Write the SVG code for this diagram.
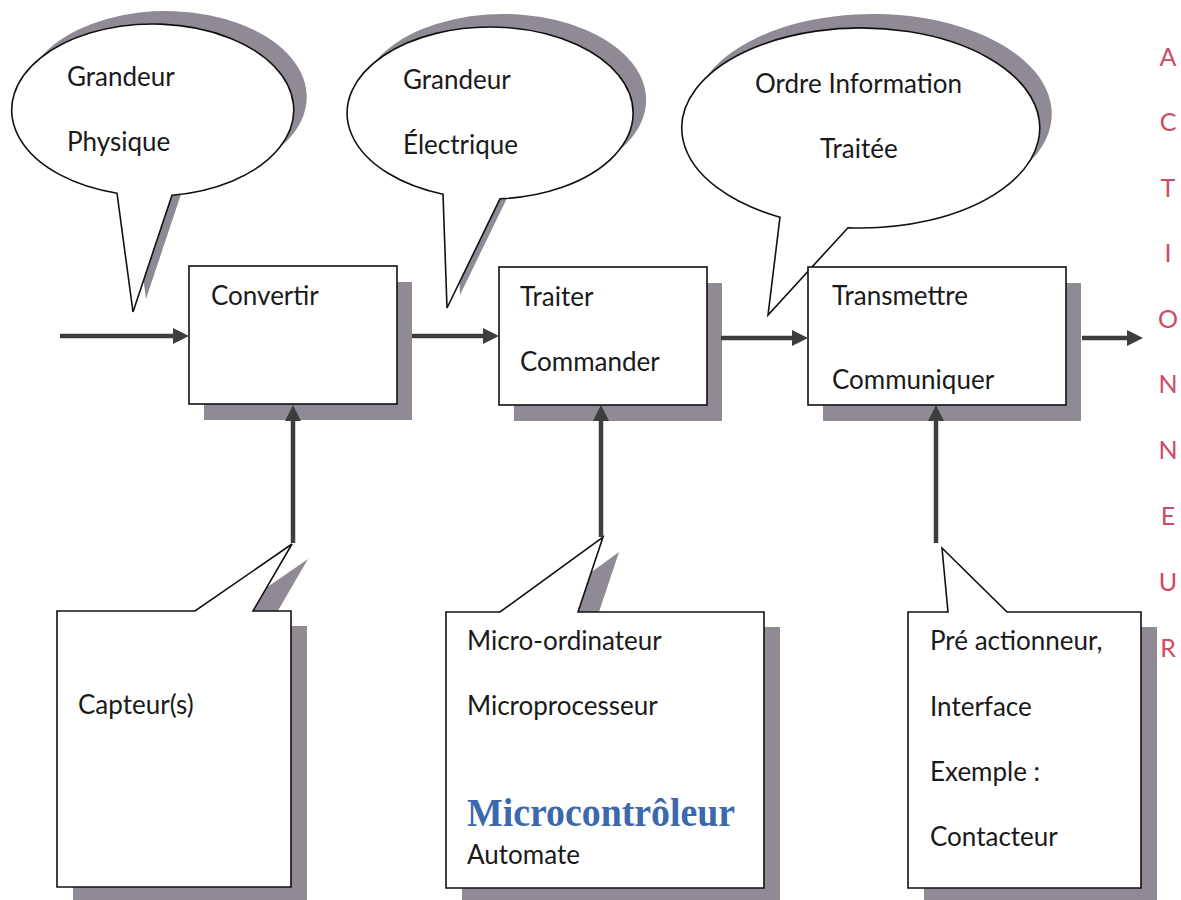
<svg xmlns="http://www.w3.org/2000/svg" width="1181" height="900" viewBox="0 0 1181 900">
<style>
.sh{fill:#8f8a94;stroke:none}
.cal{fill:#ffffff;stroke:#111111;stroke-width:1.6;stroke-linejoin:miter}
.box{fill:#ffffff;stroke:#111111;stroke-width:1.6}
.t{font-family:Lato,"Open Sans","Liberation Sans",sans-serif;font-size:26px;fill:#1a1a1a}
.red{font-family:Lato,"Open Sans","Liberation Sans",sans-serif;font-size:25px;fill:#cf4a64;text-anchor:middle}
.mc{font-family:"Liberation Serif","DejaVu Serif",serif;font-size:40px;font-weight:bold;fill:#3c68ac}
.ln{stroke:#3d3d3d;stroke-width:4.5;fill:none}
.hd{fill:#3d3d3d;stroke:none}
</style>
<rect width="1181" height="900" fill="#ffffff"/>

<!-- top callouts -->
<g id="callout-grandeur-physique">
<path class="sh" transform="translate(13,-13)" d="M117,193.2 A141,86 0 1 1 172,195.2 L133,312 Z"/>
<path class="cal" d="M117,193.2 A141,86 0 1 1 172,195.2 L133,312 Z"/>
<text class="t" x="67" y="86">Grandeur</text>
<text class="t" x="67" y="151">Physique</text>
</g>
<g id="callout-grandeur-electrique">
<path class="sh" transform="translate(13,-13)" d="M443,194.2 A143,86 0 1 1 500,198.8 L447,308 Z"/>
<path class="cal" d="M443,194.2 A143,86 0 1 1 500,198.8 L447,308 Z"/>
<text class="t" x="403" y="89">Grandeur</text>
<text class="t" x="403" y="154">Électrique</text>
</g>
<g id="callout-ordre">
<path class="sh" transform="translate(12,-14)" d="M780,217.2 A179,100 0 1 1 848,227.7 L768,315 Z"/>
<path class="cal" d="M780,217.2 A179,100 0 1 1 848,227.7 L768,315 Z"/>
<text class="t" x="755" y="93">Ordre Information</text>
<text class="t" x="820" y="158">Traitée</text>
</g>

<!-- function boxes -->
<g id="box-convertir">
<rect class="sh" x="204" y="282" width="208" height="138"/>
<rect class="box" x="189" y="266" width="208" height="138"/>
<text class="t" x="211" y="305">Convertir</text>
</g>
<g id="box-traiter">
<rect class="sh" x="514" y="283" width="208" height="138"/>
<rect class="box" x="499" y="267" width="208" height="138"/>
<text class="t" x="520" y="306">Traiter</text>
<text class="t" x="520" y="371">Commander</text>
</g>
<g id="box-transmettre">
<rect class="sh" x="823" y="283" width="258" height="138"/>
<rect class="box" x="808" y="267" width="258" height="138"/>
<text class="t" x="832" y="305">Transmettre</text>
<text class="t" x="832" y="389">Communiquer</text>
</g>

<!-- bottom callouts -->
<g id="callout-capteurs">
<path class="sh" transform="translate(16,15)" d="M57,611 L195,611 L292,544 L253,611 L291,611 L291,887 L57,887 Z"/>
<path class="cal" d="M57,611 L195,611 L292,544 L253,611 L291,611 L291,887 L57,887 Z"/>
<text class="t" x="78" y="714">Capteur(s)</text>
</g>
<g id="callout-micro">
<path class="sh" transform="translate(16,15)" d="M446,612 L500,612 L603,537 L578,612 L764,612 L764,888 L446,888 Z"/>
<path class="cal" d="M446,612 L500,612 L603,537 L578,612 L764,612 L764,888 L446,888 Z"/>
<text class="t" x="467" y="650">Micro-ordinateur</text>
<text class="t" x="467" y="715">Microprocesseur</text>
<text class="mc" x="467" y="826" textLength="268" lengthAdjust="spacingAndGlyphs">Microcontrôleur</text>
<text class="t" x="467" y="864">Automate</text>
</g>
<g id="callout-preactionneur">
<path class="sh" transform="translate(16,15)" d="M908,612 L948,612 L942,548 L1007,612 L1141,612 L1141,888 L908,888 Z"/>
<path class="cal" d="M908,612 L948,612 L942,548 L1007,612 L1141,612 L1141,888 L908,888 Z"/>
<text class="t" x="930" y="650">Pré actionneur,</text>
<text class="t" x="930" y="716">Interface</text>
<text class="t" x="930" y="781">Exemple :</text>
<text class="t" x="930" y="846">Contacteur</text>
</g>

<!-- connectors -->
<g id="connectors">
<line class="ln" x1="60" y1="336" x2="175" y2="336"/>
<polygon class="hd" points="173,328 189,336 173,344"/>
<line class="ln" x1="412" y1="336" x2="485" y2="336"/>
<polygon class="hd" points="483,328 499,336 483,344"/>
<line class="ln" x1="721" y1="338" x2="794" y2="338"/>
<polygon class="hd" points="792,330 808,338 792,346"/>
<line class="ln" x1="1082" y1="338" x2="1129" y2="338"/>
<polygon class="hd" points="1127,330 1143,338 1127,346"/>
<line class="ln" x1="293" y1="543" x2="293" y2="419"/>
<polygon class="hd" points="285,421 293,405 301,421"/>
<line class="ln" x1="601" y1="537" x2="601" y2="419"/>
<polygon class="hd" points="593,421 601,405 609,421"/>
<line class="ln" x1="936" y1="543" x2="936" y2="419"/>
<polygon class="hd" points="928,421 936,405 944,421"/>
</g>

<!-- ACTIONNEUR -->
<g id="actionneur">
<text class="red" x="1168" y="66">A</text>
<text class="red" x="1168" y="131">C</text>
<text class="red" x="1168" y="197">T</text>
<text class="red" x="1168" y="262">I</text>
<text class="red" x="1168" y="328">O</text>
<text class="red" x="1168" y="393">N</text>
<text class="red" x="1168" y="459">N</text>
<text class="red" x="1168" y="525">E</text>
<text class="red" x="1168" y="591">U</text>
<text class="red" x="1168" y="657">R</text>
</g>
</svg>
